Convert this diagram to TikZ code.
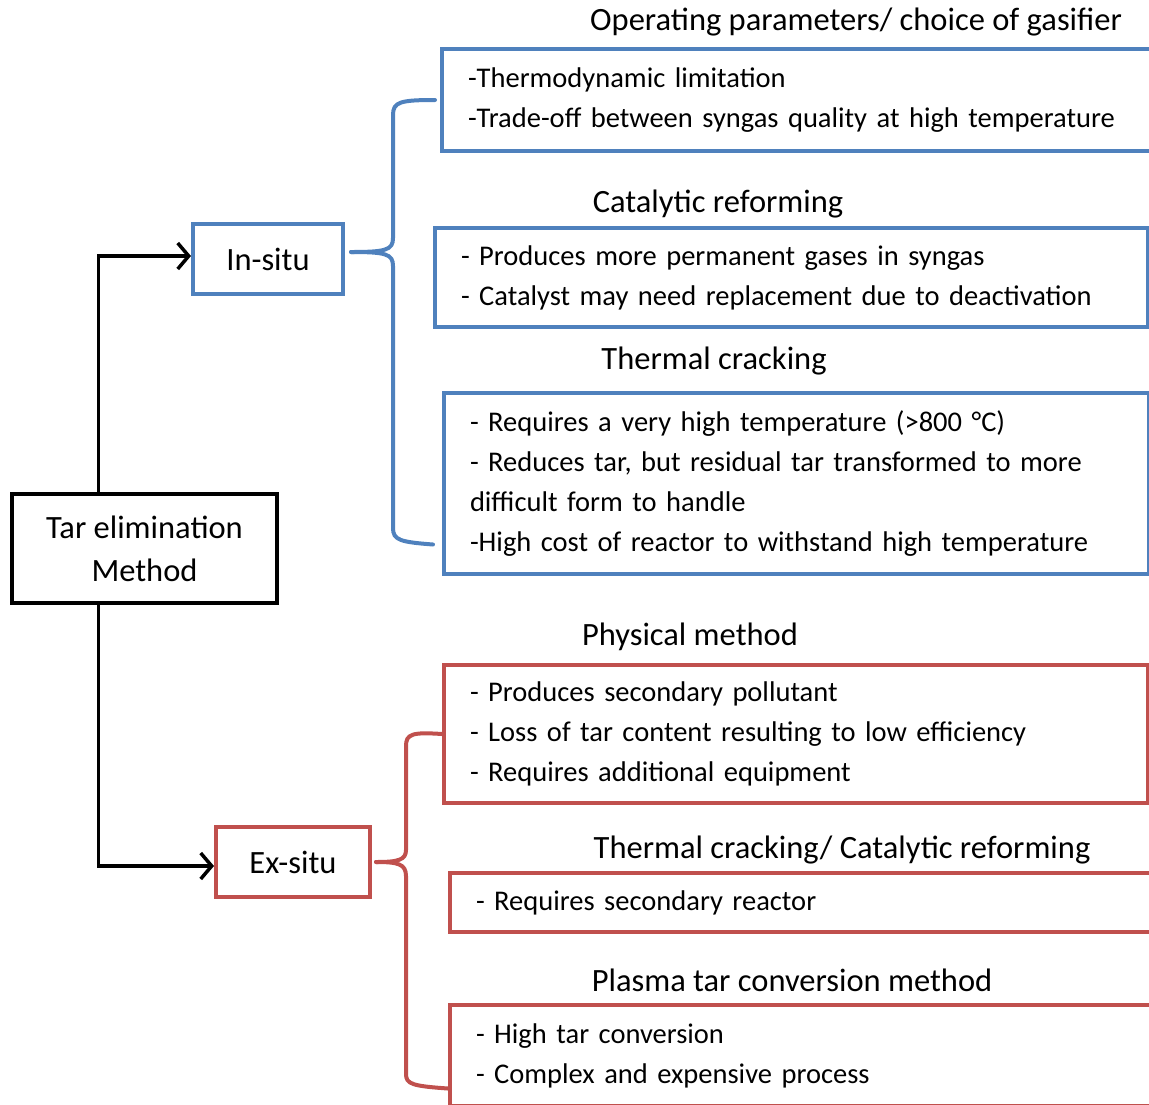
\documentclass[tikz,border=0pt]{standalone}
\usepackage{fontspec}
\setmainfont{Carlito}
\usepackage{tikz}
\usetikzlibrary{arrows.meta}
\usetikzlibrary{positioning}
\definecolor{insitublue}{HTML}{4F81BD}
\definecolor{exsitured}{HTML}{C0504D}

\begin{document}
\begin{tikzpicture}[x=1pt, y=-1pt,
    every node/.style={font=\fontsize{28.5}{40}\selectfont},
    mainbox/.style={rectangle, draw=black, line width=3.5pt, align=center, font=\fontsize{32.5}{40}\selectfont},
    insitubox/.style={rectangle, draw=insitublue, line width=4pt, align=left, inner xsep=26pt, inner ysep=0pt, anchor=north west},
    exsitubox/.style={insitubox, draw=exsitured},
    heading/.style={font=\fontsize{32.5}{36}\selectfont},
    link/.style={line width=3.5pt, -{Straight Barb[length=11pt, width=26pt]}},
    bracket/.style={line width=4pt, line cap=round}]

        % Page frame
        \useasboundingbox (0,0) rectangle (1149,1104);

        % Root node
        \node[mainbox, minimum width=265pt, minimum height=109pt] (root) at (144.5,548.5) {Tar elimination\\[3pt]Method};

        % Two branches
        \node[mainbox, draw=insitublue, line width=4pt, minimum width=150pt, minimum height=70pt] (insitu) at (268,259) {In-situ};
        \node[mainbox, draw=exsitured, line width=4pt, minimum width=154pt, minimum height=70pt] (exsitu) at (293,862) {Ex-situ};

        \draw[link] ([xshift=-46pt]root.north) |- ([yshift=3pt]insitu.west);
        \draw[link] ([xshift=-46pt]root.south) |- ([yshift=-4pt]exsitu.west);

        % In-situ boxes
        \node[heading] (h1) at (856,22) {Operating parameters/ choice of gasifier};
        \node[insitubox, text width=668pt, minimum height=102pt] (b1) at (440,47)
          {-Thermodynamic limitation\\-Trade-off between syngas quality at high temperature};

        \node[heading] (h2) at (718,204) {Catalytic reforming};
        \node[insitubox, text width=661pt, minimum height=99pt] (b2) at (433,226)
          {- Produces more permanent gases in syngas\\- Catalyst may need replacement due to deactivation};

        \node[heading] (h3) at (714,361) {Thermal cracking};
        \node[insitubox, text width=653pt, minimum height=181pt] (b3) at (442,391)
          {- Requires a very high temperature (>800 °C)\\- Reduces tar, but residual tar transformed to more\\difficult form to handle\\-High cost of reactor to withstand high temperature};

        % Ex-situ boxes
        \node[heading] (h4) at (690,637) {Physical method};
        \node[exsitubox, text width=652pt, minimum height=138pt] (r1) at (442,663)
          {- Produces secondary pollutant\\- Loss of tar content resulting to low efficiency\\- Requires additional equipment};

        \node[heading] (h5) at (842,850) {Thermal cracking/ Catalytic reforming};
        \node[exsitubox, text width=660pt, minimum height=59pt] (r2) at (448,871)
          {- Requires secondary reactor};

        \node[heading] (h6) at (792,980) {Plasma tar conversion method};
        \node[exsitubox, text width=660pt, minimum height=101pt] (r3) at (448,1003)
          {- High tar conversion\\- Complex and expensive process};

        % Brackets
        \draw[bracket, insitublue] ([xshift=-5pt]b1.west) .. controls (400,100) and (393,102) .. (393,115) -- (393,238)
          .. controls (393,250) and (386,252) .. ([xshift=6pt, yshift=7pt]insitu.east);
        \draw[bracket, insitublue] ([xshift=6pt, yshift=7pt]insitu.east) .. controls (386,252) and (393,254) .. (393,266) -- (393,528)
          .. controls (393,540) and (400,542) .. ([xshift=-9pt, yshift=-61pt]b3.west);

        \draw[bracket, exsitured] (r1.west) .. controls (412,732) and (406,734) .. (406,746) -- (406,850)
          .. controls (406,860) and (398,862) .. ([xshift=4pt]exsitu.east);
        \draw[bracket, exsitured] ([xshift=4pt]exsitu.east) .. controls (398,862) and (406,864) .. (406,876) -- (406,1074)
          .. controls (406,1084) and (412,1086) .. ([yshift=-33pt]r3.west);

\end{tikzpicture}
\end{document}
